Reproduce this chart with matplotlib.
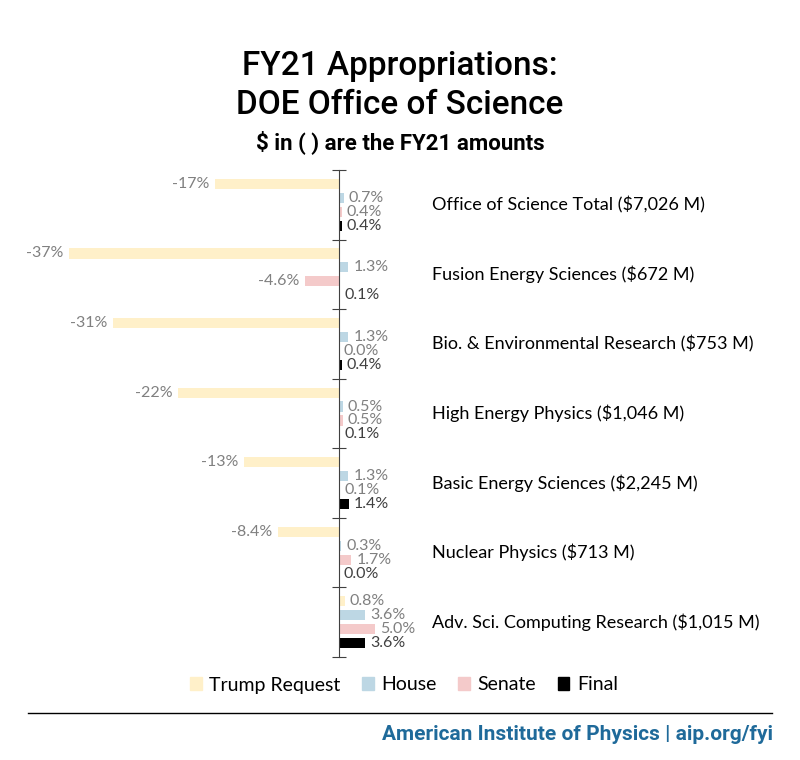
import matplotlib.pyplot as plt
from matplotlib.transforms import blended_transform_factory
from matplotlib.patches import Patch
from matplotlib.lines import Line2D

categories = ["Office of Science Total ($7,026 M)",
              "Fusion Energy Sciences ($672 M)",
              "Bio. & Environmental Research ($753 M)",
              "High Energy Physics ($1,046 M)",
              "Basic Energy Sciences ($2,245 M)",
              "Nuclear Physics ($713 M)",
              "Adv. Sci. Computing Research ($1,015 M)"]
series = ["Trump Request", "House", "Senate", "Final"]
trump = [-17, -37, -31, -22, -13, -8.4, 0.8]
house = [0.7, 1.3, 1.3, 0.5, 1.3, 0.3, 3.6]
senate = [0.4, -4.6, 0.0, 0.5, 0.1, 1.7, 5.0]
final = [0.4, 0.1, 0.4, 0.1, 1.4, 0.0, 3.6]
values = [trump, house, senate, final]
colors = ["#fff0c9", "#bdd7e4", "#f4caca", "#000000"]
label_colors = ["#808080", "#808080", "#808080", "#404040"]

body = ["Lato", "DejaVu Sans"]
cond = ["Roboto", "DejaVu Sans"]

fig = plt.figure(figsize=(8, 7.6), dpi=100)
ax = fig.add_axes([30 / 800, 1 - 657 / 760, 390 / 800, 487 / 760])

px = 7.3
ax.set_xlim(-(339 - 30) / px, (420 - 339) / px)
ax.set_ylim(6.5, -0.5)

offsets = [-0.3, -0.1, 0.1, 0.3]


def fmt(v):
    if abs(v) >= 10:
        return "%.0f%%" % v
    return "%.1f%%" % v


for vals, col, lc, off in zip(values, colors, label_colors, offsets):
    ys = [i + off for i in range(len(categories))]
    ax.barh(ys, vals, height=0.145, color=col)
    for y, v in zip(ys, vals):
        if v < 0:
            ax.annotate(fmt(v), (v, y), xytext=(-4, 0), textcoords="offset points",
                        ha="right", va="center", fontsize=11.5, color=lc, family=body)
        else:
            ax.annotate(fmt(v), (v, y), xytext=(3.5, 0), textcoords="offset points",
                        ha="left", va="center", fontsize=11.5, color=lc, family=body)

tr = blended_transform_factory(fig.transFigure, ax.transData)
for i, c in enumerate(categories):
    ax.text(432 / 800, i, c, transform=tr, ha="left", va="center",
            fontsize=13, color="#000000", family=body)

for s in ["top", "right", "bottom"]:
    ax.spines[s].set_visible(False)
ax.spines["left"].set_position(("data", 0))
ax.spines["left"].set_color("#404040")
ax.set_xticks([])
ax.set_yticks([i - 0.5 for i in range(len(categories) + 1)])
ax.set_yticklabels([])
ax.tick_params(axis="y", direction="inout", length=10, color="#404040")

fig.text(0.5, 1 - 66 / 760, "FY21 Appropriations:", ha="center", va="center",
         fontsize=24, fontweight="medium", family=cond)
fig.text(0.5, 1 - 105 / 760, "DOE Office of Science", ha="center", va="center",
         fontsize=24, fontweight="medium", family=cond)
fig.text(0.5, 1 - 142 / 760, "$ in ( ) are the FY21 amounts", ha="center", va="center",
         fontsize=16, fontweight="bold", family=cond)

handles = [Patch(color=c) for c in colors]
fig.legend(handles, series, loc="center", bbox_to_anchor=(404 / 800, 1 - 685 / 760),
           ncol=4, frameon=False, prop={"family": body, "size": 14},
           handlelength=0.6, handleheight=0.6, handletextpad=0.4, columnspacing=1.1)

fig.add_artist(Line2D([28 / 800, 772 / 800], [1 - 713 / 760, 1 - 713 / 760],
                      color="#000000", linewidth=1, transform=fig.transFigure))
fig.text(773 / 800, 1 - 735 / 760, "American Institute of Physics | aip.org/fyi",
         ha="right", va="center", fontsize=15, fontweight="bold", color="#1f6a9a",
         family=cond)

fig.savefig("out.png")
